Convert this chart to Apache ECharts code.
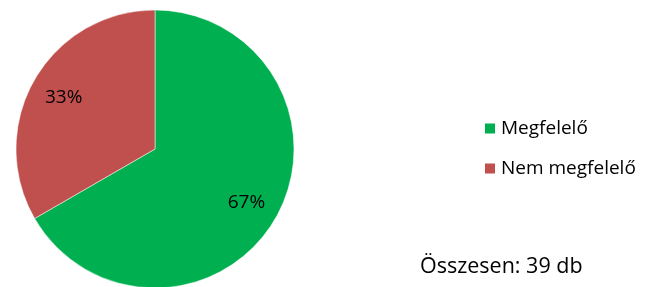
<!DOCTYPE html>
<html>
<head>
<meta charset="utf-8">
<script src="https://cdn.jsdelivr.net/npm/echarts@6/dist/echarts.min.js"></script>
<style>
  html, body { margin: 0; padding: 0; background: #fff; }
  #chart { width: 650px; height: 287px; }
</style>
</head>
<body>
<div id="chart"></div>
<script>
    var categories = ['Megfelelő', 'Nem megfelelő'];
    var counts = [26, 13];
    var colors = ['#00B050', '#C0504D'];
    var totalLabel = 'Összesen: 39 db';

    var font = '"Open Sans", "Noto Sans", sans-serif';

    var pieData = categories.map(function(name, i) {
        return { name: name, value: counts[i], itemStyle: { color: colors[i] } };
    });

    var chart = echarts.init(document.getElementById('chart'));

    var option = {
        animation: false,
        legend: {
            orient: 'vertical',
            left: 478,
            top: 114,
            itemWidth: 12,
            itemHeight: 12,
            itemGap: 21,
            icon: 'rect',
            data: categories,
            textStyle: { fontFamily: font, fontSize: 19, color: '#000' }
        },
        graphic: [{
            type: 'text',
            left: 420,
            top: 256,
            style: { text: totalLabel, fontFamily: font, fontSize: 21.5, fill: '#000' }
        }],
        series: [{
            // visible pie
            type: 'pie',
            center: [155, 149],
            radius: [0, 139],
            startAngle: 90,
            clockwise: true,
            label: { show: false },
            labelLine: { show: false },
            itemStyle: { borderColor: '#fff', borderWidth: 0.5 },
            emphasis: { disabled: true },
            data: pieData
        }, {
            // transparent ring only for label placement
            type: 'pie',
            center: [155, 150],
            radius: [66, 139],
            startAngle: 90,
            clockwise: true,
            silent: true,
            legendHoverLink: false,
            itemStyle: { color: 'transparent' },
            label: {
                show: true,
                position: 'inside',
                formatter: function(p) { return Math.round(p.percent) + '%'; },
                fontFamily: font,
                fontSize: 19,
                color: '#000'
            },
            labelLine: { show: false },
            data: categories.map(function(name, i) { return { name: name + ' ', value: counts[i] }; })
        }]
    };

    chart.setOption(option);
</script>
</body>
</html>
